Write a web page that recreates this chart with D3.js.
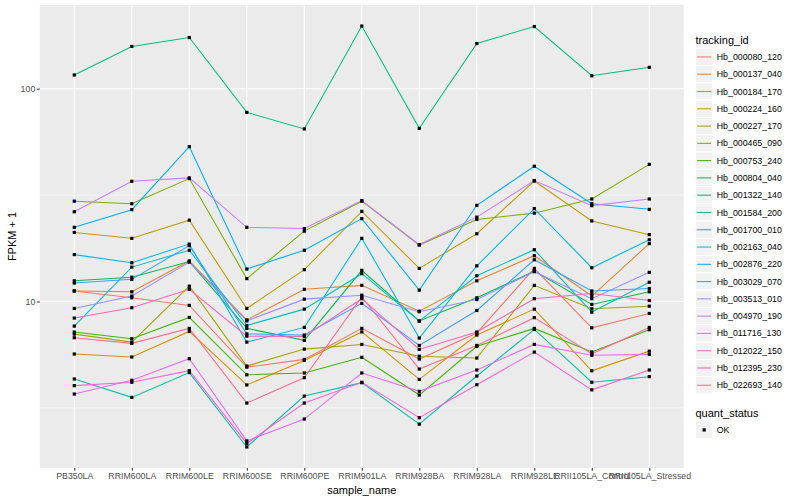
<!DOCTYPE html>
<html>
<head>
<meta charset="utf-8">
<script src="https://cdn.jsdelivr.net/npm/d3@7"></script>
<style>
  body { margin: 0; background: #fff; }
  text { font-family: "Liberation Sans", Arial, Helvetica, sans-serif; }
</style>
</head>
<body>
<svg id="chart" width="800" height="500"></svg>
<script>
// samples on the x axis
var samples = ['PB350LA', 'RRIM600LA', 'RRIM600LE', 'RRIM600SE', 'RRIM600PE', 'RRIM901LA',
               'RRIM928BA', 'RRIM928LA', 'RRIM928LE', 'RRII105LA_Control', 'RRII105LA_Stressed']

// FPKM + 1 per gene, one value per sample
var hb_000080_120 = [11.2, 10.4, 9.58, 4.91, 5.34, 7.47, 5.36, 7.11, 14.3, 7.51, 8.78]
var hb_000137_040 = [11.2, 11.1, 15.5, 8.19, 11.4, 11.9, 9.00, 12.5, 16.4, 10.6, 18.7]
var hb_000184_170 = [5.66, 5.48, 7.23, 4.05, 5.28, 7.19, 4.30, 6.95, 9.20, 4.72, 5.84]
var hb_000224_160 = [21.1, 19.8, 24.1, 9.27, 14.1, 26.5, 14.3, 20.8, 36.8, 23.9, 20.6]
var hb_000227_170 = [7.02, 6.44, 11.8, 4.97, 5.97, 6.28, 5.53, 5.42, 11.9, 9.24, 9.50]
var hb_000465_090 = [29.6, 28.8, 37.8, 12.8, 21.4, 29.6, 18.4, 24.3, 26.0, 30.3, 44.1]
var hb_000753_240 = [7.18, 6.68, 8.41, 4.52, 4.61, 5.46, 3.63, 6.15, 7.47, 5.79, 7.36]
var hb_000804_040 = [12.5, 13.0, 15.4, 7.47, 6.56, 14.0, 8.10, 10.4, 13.9, 9.68, 11.1]
var hb_001322_140 = [116, 158, 174, 77.4, 64.7, 197, 65.1, 163, 196, 115, 126]
var hb_001584_200 = [4.32, 3.54, 4.63, 2.07, 3.59, 4.15, 2.65, 4.46, 7.39, 4.17, 4.43]
var hb_001700_010 = [7.66, 14.5, 17.4, 7.71, 9.20, 13.5, 8.08, 13.2, 17.5, 8.91, 12.3]
var hb_002163_040 = [16.6, 15.2, 18.6, 6.44, 7.55, 19.8, 6.73, 14.7, 27.3, 14.4, 19.5]
var hb_002876_220 = [22.3, 27.0, 53.4, 14.2, 17.4, 24.5, 11.3, 28.3, 43.2, 28.8, 27.1]
var hb_003029_070 = [12.2, 12.7, 18.3, 7.04, 6.95, 9.79, 6.21, 9.07, 15.7, 11.2, 11.5]
var hb_003513_010 = [9.27, 10.6, 15.3, 8.10, 10.25, 10.7, 8.95, 10.2, 13.8, 10.3, 13.7]
var hb_004970_190 = [26.4, 36.7, 38.1, 22.3, 22.0, 29.8, 18.5, 24.9, 37.0, 28.2, 30.3]
var hb_011716_130 = [3.67, 4.26, 5.38, 2.21, 2.80, 4.61, 3.78, 4.76, 6.28, 5.58, 5.64]
var hb_012022_150 = [4.02, 4.17, 4.73, 2.15, 3.33, 4.17, 2.84, 4.06, 5.78, 3.84, 4.76]
var hb_012395_230 = [8.35, 9.34, 11.4, 6.87, 6.85, 10.3, 5.95, 7.18, 10.3, 10.9, 10.1]
var hb_022693_140 = [6.75, 6.35, 7.47, 3.33, 4.38, 10.5, 4.81, 6.21, 8.39, 5.67, 7.55]

var trackingIds = ['Hb_000080_120', 'Hb_000137_040', 'Hb_000184_170', 'Hb_000224_160', 'Hb_000227_170',
                   'Hb_000465_090', 'Hb_000753_240', 'Hb_000804_040', 'Hb_001322_140', 'Hb_001584_200',
                   'Hb_001700_010', 'Hb_002163_040', 'Hb_002876_220', 'Hb_003029_070', 'Hb_003513_010',
                   'Hb_004970_190', 'Hb_011716_130', 'Hb_012022_150', 'Hb_012395_230', 'Hb_022693_140']
var geneValues = [hb_000080_120, hb_000137_040, hb_000184_170, hb_000224_160, hb_000227_170,
                  hb_000465_090, hb_000753_240, hb_000804_040, hb_001322_140, hb_001584_200,
                  hb_001700_010, hb_002163_040, hb_002876_220, hb_003029_070, hb_003513_010,
                  hb_004970_190, hb_011716_130, hb_012022_150, hb_012395_230, hb_022693_140]
var quantStatus = ['OK']

// ggplot default hue palette for 20 levels
var palette = ['#F8766D', '#EA8331', '#D89000', '#C09B00', '#A3A500', '#7CAE00', '#39B600', '#00BB4E',
               '#00BF7D', '#00C1A3', '#00BFC4', '#00BAE0', '#00B0F6', '#35A2FF', '#9590FF', '#C77CFF',
               '#E76BF3', '#FA62DB', '#FF62BC', '#FF6C91']

///////////////////////////////

var series = trackingIds.map(function(id, i) {
    return {id: id, values: geneValues[i].map(function(v, j) { return {sample: samples[j], value: v} })}
})

var svg = d3.select('#chart')
var panel = {left: 39.8, right: 683.8, top: 5, bottom: 468}

var x = d3.scalePoint()
    .domain(samples)
    .range([panel.left, panel.right])
    .padding(0.6)

var allValues = d3.merge(geneValues)
var lo = Math.log10(d3.min(allValues)), hi = Math.log10(d3.max(allValues))
var pad = (hi - lo) * 0.05
var y = d3.scaleLog()
    .domain([Math.pow(10, lo - pad), Math.pow(10, hi + pad)])
    .range([panel.bottom, panel.top])

var color = d3.scaleOrdinal().domain(trackingIds).range(palette)

var majorY = [10, 100]
var minorY = [Math.pow(10, 0.5), Math.pow(10, 1.5)]

// panel background + grid
svg.append('rect')
    .attr('x', panel.left).attr('y', panel.top)
    .attr('width', panel.right - panel.left).attr('height', panel.bottom - panel.top)
    .style('fill', '#EBEBEB')

svg.append('g').selectAll('line')
    .data(minorY)
    .enter().append('line')
    .attr('x1', panel.left).attr('x2', panel.right)
    .attr('y1', function(d) { return y(d) }).attr('y2', function(d) { return y(d) })
    .style('stroke', '#fff').style('stroke-width', 0.53)

svg.append('g').selectAll('line')
    .data(majorY)
    .enter().append('line')
    .attr('x1', panel.left).attr('x2', panel.right)
    .attr('y1', function(d) { return y(d) }).attr('y2', function(d) { return y(d) })
    .style('stroke', '#fff').style('stroke-width', 1.07)

svg.append('g').selectAll('line')
    .data(samples)
    .enter().append('line')
    .attr('x1', function(d) { return x(d) }).attr('x2', function(d) { return x(d) })
    .attr('y1', panel.top).attr('y2', panel.bottom)
    .style('stroke', '#fff').style('stroke-width', 1.07)

// lines
var line = d3.line()
    .x(function(d) { return x(d.sample) })
    .y(function(d) { return y(d.value) })

svg.append('g').selectAll('path')
    .data(series)
    .enter().append('path')
    .attr('d', function(d) { return line(d.values) })
    .style('fill', 'none')
    .style('stroke', function(d) { return color(d.id) })
    .style('stroke-width', 1.07)

// points
var pts = d3.merge(series.map(function(s) { return s.values }))
svg.append('g').selectAll('rect')
    .data(pts)
    .enter().append('rect')
    .attr('x', function(d) { return x(d.sample) - 1.6 })
    .attr('y', function(d) { return y(d.value) - 1.6 })
    .attr('width', 3.2).attr('height', 3.2)
    .style('fill', '#000')

// axes
var yAxis = d3.axisLeft(y).tickValues(majorY).tickSize(2.7).tickPadding(1.8)
    .tickFormat(d3.format('d'))
var gy = svg.append('g').attr('transform', 'translate(' + panel.left + ',0)').call(yAxis)
var xAxis = d3.axisBottom(x).tickSize(2.7).tickPadding(2.5)
var gx = svg.append('g').attr('transform', 'translate(0,' + panel.bottom + ')').call(xAxis)

;[gx, gy].forEach(function(g) {
    g.select('.domain').remove()
    g.selectAll('.tick line').style('stroke', '#333333').style('stroke-width', 1.07)
    g.selectAll('.tick text')
        .style('font-family', '"Liberation Sans", Arial, sans-serif')
        .style('font-size', '8.8px')
        .style('fill', '#4D4D4D')
})

svg.append('text')
    .attr('x', (panel.left + panel.right) / 2).attr('y', 494)
    .attr('text-anchor', 'middle')
    .style('font-size', '11px').style('fill', '#000')
    .text('sample_name')

svg.append('text')
    .attr('transform', 'translate(16,' + ((panel.top + panel.bottom) / 2) + ') rotate(-90)')
    .attr('text-anchor', 'middle')
    .style('font-size', '11px').style('fill', '#000')
    .text('FPKM + 1')

// legend: tracking_id
var keyX = 695.5, keyW = 17.28, keyTop = 48.3
var legend = svg.append('g')
legend.append('text')
    .attr('x', keyX).attr('y', 44.3)
    .style('font-size', '11px').style('fill', '#000')
    .text('tracking_id')

var keys = legend.selectAll('g.key')
    .data(trackingIds)
    .enter().append('g')
    .attr('class', 'key')
    .attr('transform', function(d, i) { return 'translate(' + keyX + ',' + (keyTop + i * keyW) + ')' })
keys.append('rect')
    .attr('width', keyW).attr('height', keyW)
    .style('fill', '#F2F2F2').style('stroke', '#fff').style('stroke-width', 1)
keys.append('line')
    .attr('x1', 1.7).attr('x2', keyW - 1.7)
    .attr('y1', keyW / 2).attr('y2', keyW / 2)
    .style('stroke', function(d) { return color(d) })
    .style('stroke-width', 1.07)
keys.append('text')
    .attr('x', keyW + 4).attr('y', keyW / 2).attr('dy', '0.35em')
    .style('font-size', '8.8px').style('fill', '#000')
    .text(function(d) { return d })

// legend: quant_status
var qTop = 421.3
legend.append('text')
    .attr('x', keyX).attr('y', 416.6)
    .style('font-size', '11px').style('fill', '#000')
    .text('quant_status')
var qkeys = legend.selectAll('g.qkey')
    .data(quantStatus)
    .enter().append('g')
    .attr('class', 'qkey')
    .attr('transform', function(d, i) { return 'translate(' + keyX + ',' + (qTop + i * keyW) + ')' })
qkeys.append('rect')
    .attr('width', keyW).attr('height', keyW)
    .style('fill', '#F2F2F2').style('stroke', '#fff').style('stroke-width', 1)
qkeys.append('rect')
    .attr('x', keyW / 2 - 1.6).attr('y', keyW / 2 - 1.6)
    .attr('width', 3.2).attr('height', 3.2)
    .style('fill', '#000')
qkeys.append('text')
    .attr('x', keyW + 4).attr('y', keyW / 2).attr('dy', '0.35em')
    .style('font-size', '8.8px').style('fill', '#000')
    .text(function(d) { return d })
</script>
</body>
</html>
